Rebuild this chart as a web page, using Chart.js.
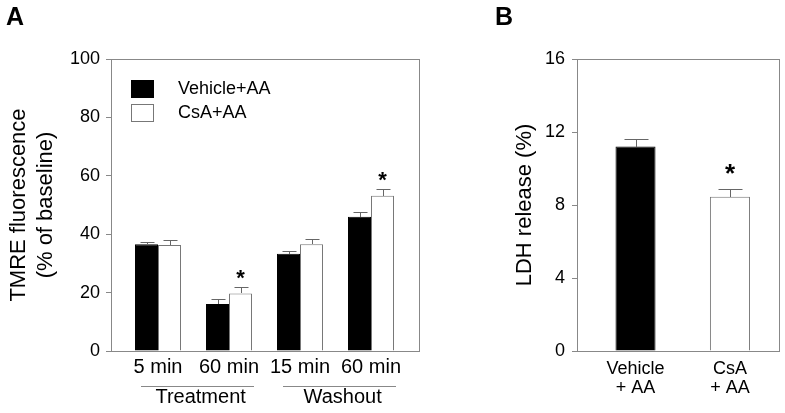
<!DOCTYPE html>
<html>
<head>
<meta charset="utf-8">
<script src="https://cdn.jsdelivr.net/npm/chart.js@4"></script>
<style>
  body { margin: 0; background: #fff; }
  #wrapA { position: absolute; left: 0; top: 0; width: 450px; height: 413px; }
  #wrapB { position: absolute; left: 450px; top: 0; width: 335px; height: 413px; }
</style>
</head>
<body>
<div id="wrapA"><canvas id="chartA"></canvas></div>
<div id="wrapB"><canvas id="chartB"></canvas></div>
<script>
// panel A data
const timepoints = ['5 min', '60 min', '15 min', '60 min'];
const phases = ['Treatment', 'Washout'];
const phaseOf = [0, 0, 1, 1];
const vehicleAA = [36.6, 16.1, 33.3, 46.0];
const vehicleErr = [0.7, 1.7, 0.9, 1.7];
const csaAA = [36.3, 19.7, 36.6, 53.2];
const csaErr = [1.8, 2.2, 1.9, 2.2];
const csaSig = [false, true, false, true];

// panel B data
const ldhGroups = [['Vehicle', '+ AA'], ['CsA', '+ AA']];
const ldhRelease = [11.2, 8.45];
const ldhErr = [0.4, 0.4];
const ldhSig = [false, true];

const FONT = 'Arial, "Liberation Sans", sans-serif';
const AXIS = '#888';

// box round the plot area
const frame = {
  id: 'frame',
  beforeDatasetsDraw(chart) {
    const { ctx, chartArea: a } = chart;
    ctx.save();
    ctx.strokeStyle = AXIS;
    ctx.lineWidth = 1;
    ctx.strokeRect(Math.round(a.left) - 0.5, Math.round(a.top) + 0.5,
      Math.round(a.right - a.left), Math.round(a.bottom - a.top));
    ctx.restore();
  }
};

// upward error bars + asterisks
const errorBars = {
  id: 'errorBars',
  afterDatasetsDraw(chart, args, opts) {
    const { ctx } = chart;
    const y = chart.scales.y;
    ctx.save();
    ctx.strokeStyle = '#666';
    ctx.lineWidth = 1;
    chart.data.datasets.forEach((ds, di) => {
      const meta = chart.getDatasetMeta(di);
      meta.data.forEach((bar, i) => {
        const v = ds.data[i].y;
        const top = Math.round(y.getPixelForValue(v + ds.err[i])) + 0.5;
        const cx = Math.round(bar.x) + 0.5;
        ctx.beginPath();
        ctx.moveTo(cx, Math.round(bar.y));
        ctx.lineTo(cx, top);
        ctx.moveTo(cx - opts.cap, top);
        ctx.lineTo(cx + opts.cap, top);
        ctx.stroke();
        if (ds.sig && ds.sig[i]) {
          const fs = opts.starSize;
          ctx.fillStyle = '#000';
          ctx.font = 'bold ' + fs + 'px ' + FONT;
          ctx.textAlign = 'center';
          ctx.textBaseline = 'alphabetic';
          ctx.fillText('*', bar.x, top - opts.starGap + 0.57 * fs);
        }
      });
    });
    ctx.restore();
  }
};

const panelLetter = {
  id: 'panelLetter',
  afterDraw(chart, args, opts) {
    const { ctx } = chart;
    ctx.save();
    ctx.fillStyle = '#000';
    ctx.font = 'bold 25px ' + FONT;
    ctx.textAlign = 'left';
    ctx.textBaseline = 'alphabetic';
    ctx.fillText(opts.text, opts.x, 25);
    ctx.restore();
  }
};

// legend inside panel A
const insideLegend = {
  id: 'insideLegend',
  afterDraw(chart) {
    const { ctx, chartArea: a } = chart;
    const x0 = a.left + 19, y0 = a.top + 21;
    ctx.save();
    chart.data.datasets.forEach((ds, i) => {
      const yy = y0 + i * 24;
      ctx.fillStyle = ds.backgroundColor;
      ctx.fillRect(x0, yy, 23, 18);
      ctx.strokeStyle = ds.borderColor;
      ctx.lineWidth = 1;
      ctx.strokeRect(x0 + 0.5, yy + 0.5, 22, 17);
      ctx.fillStyle = '#000';
      ctx.font = '18px ' + FONT;
      ctx.textAlign = 'left';
      ctx.textBaseline = 'middle';
      ctx.fillText(ds.label, x0 + 47, yy + 9);
    });
    ctx.restore();
  }
};

// Treatment / Washout under the tick labels
const phaseLabels = {
  id: 'phaseLabels',
  afterDraw(chart) {
    const { ctx } = chart;
    const x = chart.scales.x;
    ctx.save();
    phases.forEach((name, p) => {
      const idx = [];
      phaseOf.forEach((g, i) => { if (g === p) idx.push(i + 1); });
      const first = idx[0], last = idx[idx.length - 1];
      const x0 = x.getPixelForValue(first) - 17;
      const x1 = x.getPixelForValue(last) + 25;
      ctx.strokeStyle = AXIS;
      ctx.lineWidth = 1;
      ctx.beginPath();
      ctx.moveTo(x0, 386.5);
      ctx.lineTo(x1, 386.5);
      ctx.stroke();
      ctx.fillStyle = '#000';
      ctx.font = '20px ' + FONT;
      ctx.textAlign = 'center';
      ctx.textBaseline = 'alphabetic';
      ctx.fillText(name, x.getPixelForValue((first + last) / 2 + 0.1), 403);
    });
    ctx.restore();
  }
};

const chartA = new Chart(document.getElementById('chartA'), {
  type: 'bar',
  data: {
    datasets: [
      {
        label: 'Vehicle+AA',
        data: vehicleAA.map((v, i) => ({ x: i + 1, y: v })),
        err: vehicleErr,
        backgroundColor: '#000',
        borderColor: '#000',
        borderWidth: 1
      },
      {
        label: 'CsA+AA',
        data: csaAA.map((v, i) => ({ x: i + 1, y: v })),
        err: csaErr,
        sig: csaSig,
        backgroundColor: '#fff',
        borderColor: '#777',
        borderWidth: 1
      }
    ]
  },
  options: {
    responsive: true,
    maintainAspectRatio: false,
    animation: false,
    categoryPercentage: 0.648,
    barPercentage: 1,
    layout: { padding: { top: 59, right: 30, left: 0, bottom: 0 } },
    plugins: {
      legend: { display: false },
      tooltip: { enabled: false },
      errorBars: { cap: 7, starSize: 22, starGap: 15 },
      panelLetter: { text: 'A', x: 6 }
    },
    scales: {
      x: {
        type: 'linear',
        min: 0.352,
        max: 4.69,
        offset: false,
        afterBuildTicks: s => { s.ticks = timepoints.map((_, i) => ({ value: i + 1 })); },
        afterFit: s => { s.height = 62; },
        grid: { display: false, drawTicks: false, offset: false },
        border: { display: false },
        ticks: {
          callback: v => timepoints[v - 1],
          color: '#000',
          font: { size: 20, family: FONT },
          padding: 4,
          maxRotation: 0,
          autoSkip: false
        }
      },
      y: {
        min: 0,
        max: 100,
        afterFit: s => { s.width = 112; },
        ticks: { stepSize: 20, padding: 6, color: '#000', font: { size: 18, family: FONT } },
        grid: { drawOnChartArea: false, drawTicks: true, tickLength: 6, color: AXIS },
        border: { display: false },
        title: {
          display: true,
          text: ['TMRE fluorescence', '(% of baseline)'],
          color: '#000',
          font: { size: 22, family: FONT, lineHeight: 1.23 },
          padding: { top: 5.5, bottom: 0 }
        }
      }
    }
  },
  plugins: [frame, errorBars, panelLetter, insideLegend, phaseLabels]
});

const chartB = new Chart(document.getElementById('chartB'), {
  type: 'bar',
  data: {
    datasets: [
      {
        label: 'LDH release',
        data: ldhRelease.map((v, i) => ({ x: i + 1, y: v })),
        err: ldhErr,
        sig: ldhSig,
        backgroundColor: ['#000', '#fff'],
        borderColor: ['#000', '#777'],
        borderWidth: 1
      }
    ]
  },
  options: {
    responsive: true,
    maintainAspectRatio: false,
    animation: false,
    categoryPercentage: 0.424,
    barPercentage: 1,
    layout: { padding: { top: 59, right: 5, left: 0, bottom: 0 } },
    plugins: {
      legend: { display: false },
      tooltip: { enabled: false },
      errorBars: { cap: 12, starSize: 26, starGap: 22 },
      panelLetter: { text: 'B', x: 45 }
    },
    scales: {
      x: {
        type: 'linear',
        min: 0.391,
        max: 2.53,
        offset: false,
        afterBuildTicks: s => { s.ticks = ldhGroups.map((_, i) => ({ value: i + 1 })); },
        afterFit: s => { s.height = 62; },
        grid: { display: false, drawTicks: false, offset: false },
        border: { display: false },
        ticks: {
          callback: v => ldhGroups[v - 1],
          color: '#000',
          font: { size: 18, family: FONT, lineHeight: 1.05 },
          padding: 8.5,
          maxRotation: 0,
          autoSkip: false
        }
      },
      y: {
        min: 0,
        max: 16,
        afterFit: s => { s.width = 128; },
        ticks: { stepSize: 4, padding: 7, color: '#000', font: { size: 18, family: FONT } },
        grid: { drawOnChartArea: false, drawTicks: true, tickLength: 6, color: AXIS },
        border: { display: false },
        title: {
          display: true,
          text: 'LDH release (%)',
          color: '#000',
          font: { size: 22, family: FONT, lineHeight: 1.23 },
          padding: { top: 61.5, bottom: 0 }
        }
      }
    }
  },
  plugins: [frame, errorBars, panelLetter]
});
</script>
</body>
</html>
